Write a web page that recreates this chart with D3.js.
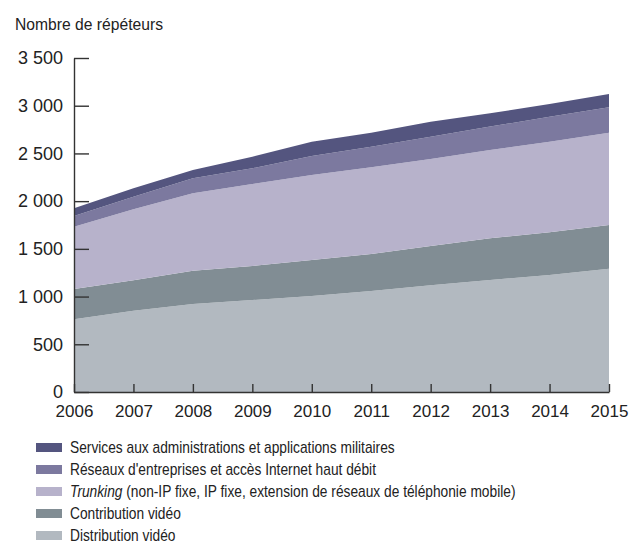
<!DOCTYPE html>
<html>
<head>
<meta charset="utf-8">
<script src="https://cdn.jsdelivr.net/npm/d3@7"></script>
<style>
  body { margin: 0; background: #fff; }
  svg { display: block; font-family: "Liberation Sans Narrow", "Arial Narrow", "Liberation Sans", sans-serif; }
</style>
</head>
<body>
<div id="chart"></div>
<script>
// years on the x axis
const years = [2006, 2007, 2008, 2009, 2010, 2011, 2012, 2013, 2014, 2015];
// stacked layers, bottom to top (number of transponders)
const distribution = [762, 852, 922, 964, 1006, 1058, 1118, 1174, 1226, 1292];
const contribution = [317, 318, 349, 356, 377, 388, 412, 436, 447, 458];
const trunking = [653, 745, 812, 860, 891, 909, 912, 926, 950, 968];
const reseaux = [112, 132, 157, 164, 199, 216, 234, 245, 262, 266];
const services = [81, 88, 87, 122, 150, 147, 157, 139, 133, 139];
const yTicks = [0, 500, 1000, 1500, 2000, 2500, 3000, 3500];

const keys = ['distribution', 'contribution', 'trunking', 'reseaux', 'services'];
const colors = {
  distribution: '#b2b9c0',
  contribution: '#818d94',
  trunking: '#b7b2cb',
  reseaux: '#7c799f',
  services: '#54557f'
};
const legendRows = [
  { key: 'services', text: 'Services aux administrations et applications militaires' },
  { key: 'reseaux', text: "Réseaux d'entreprises et accès Internet haut débit" },
  { key: 'trunking', italic: 'Trunking', text: ' (non-IP fixe, IP fixe, extension de réseaux de téléphonie mobile)' },
  { key: 'contribution', text: 'Contribution vidéo' },
  { key: 'distribution', text: 'Distribution vidéo' }
];

const table = years.map((yr, i) => ({
  year: yr,
  distribution: distribution[i],
  contribution: contribution[i],
  trunking: trunking[i],
  reseaux: reseaux[i],
  services: services[i]
}));

const width = 629, height = 547;
const plot = { left: 74, right: 609, top: 58, bottom: 392 };

const svg = d3.select('#chart').append('svg')
  .attr('width', width)
  .attr('height', height);

const x = d3.scaleLinear().domain([2006, 2015]).range([plot.left, plot.right]);
const y = d3.scaleLinear().domain([0, 3500]).range([plot.bottom, plot.top]);

const stacked = d3.stack().keys(keys)(table);

const area = d3.area()
  .x(d => x(d.data.year))
  .y0(d => y(d[0]))
  .y1(d => y(d[1]));

svg.append('g')
  .selectAll('path')
  .data(stacked)
  .enter()
  .append('path')
  .attr('fill', d => colors[d.key])
  .attr('d', area);

const fr = d3.formatLocale({ decimal: ',', thousands: ' ', grouping: [3], currency: ['', ''] });
const fmt = fr.format(',d');

// y axis
const yAxis = svg.append('g')
  .attr('transform', 'translate(' + plot.left + ',0)')
  .call(d3.axisLeft(y).tickValues(yTicks).tickFormat(fmt).tickSizeInner(-15).tickSizeOuter(0).tickPadding(11));

// x axis
const xAxis = svg.append('g')
  .attr('transform', 'translate(0,' + plot.bottom + ')')
  .call(d3.axisBottom(x).tickValues(years).tickFormat(d3.format('d')).tickSizeInner(-8).tickSizeOuter(0).tickPadding(13));

[yAxis, xAxis].forEach(g => {
  g.selectAll('path, line').attr('stroke', '#333').attr('stroke-width', 1.4);
  g.selectAll('text').attr('fill', '#222').style('font-size', '18px')
    .style('font-family', '"Liberation Sans Narrow", "Arial Narrow", "Liberation Sans", sans-serif');
});
xAxis.selectAll('text').style('font-size', '17px');

// title
svg.append('text')
  .attr('transform', 'translate(15,30) scale(0.95,1)')
  .attr('fill', '#222')
  .style('font-size', '16.5px')
  .text('Nombre de répéteurs');

// legend
const legend = svg.append('g').attr('transform', 'translate(36,443)');
const row = legend.selectAll('g')
  .data(legendRows)
  .enter()
  .append('g')
  .attr('transform', (d, i) => 'translate(0,' + (i * 22) + ')');

row.append('rect')
  .attr('width', 26)
  .attr('height', 9)
  .attr('fill', d => colors[d.key]);

const txt = row.append('text')
  .attr('transform', 'translate(34,10) scale(0.86,1)')
  .attr('fill', '#222')
  .style('font-size', '16px');

txt.filter(d => d.italic).append('tspan')
  .style('font-style', 'italic')
  .text(d => d.italic);
txt.append('tspan').text(d => d.text);
</script>
</body>
</html>
